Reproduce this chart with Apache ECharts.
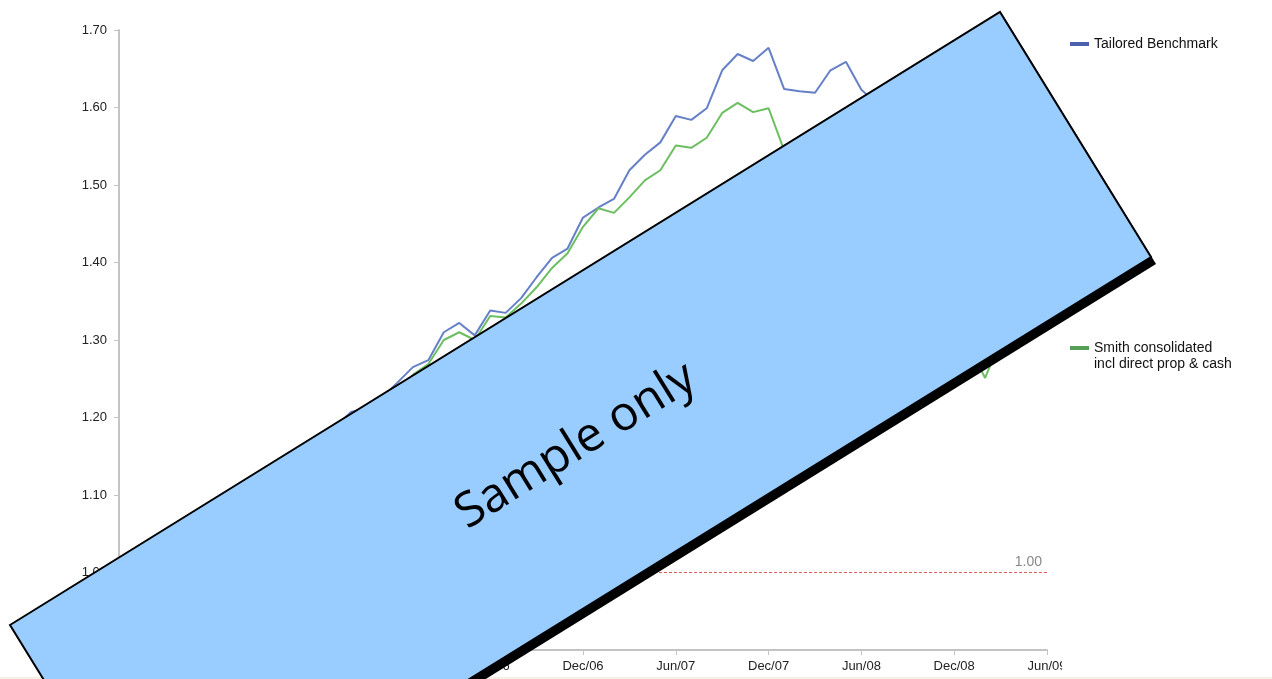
<!DOCTYPE html>
<html>
<head>
<meta charset="utf-8">
<script src="https://cdn.jsdelivr.net/npm/echarts@6/dist/echarts.min.js"></script>
<style>html,body{margin:0;padding:0;background:#fff;}#c{width:1272px;height:679px;}</style>
</head>
<body>
<div id="c"></div>
<script>
var months = ['Jun/04','Jul/04','Aug/04','Sep/04','Oct/04','Nov/04','Dec/04','Jan/05','Feb/05','Mar/05','Apr/05','May/05',
'Jun/05','Jul/05','Aug/05','Sep/05','Oct/05','Nov/05','Dec/05','Jan/06','Feb/06','Mar/06','Apr/06','May/06',
'Jun/06','Jul/06','Aug/06','Sep/06','Oct/06','Nov/06','Dec/06','Jan/07','Feb/07','Mar/07','Apr/07','May/07',
'Jun/07','Jul/07','Aug/07','Sep/07','Oct/07','Nov/07','Dec/07','Jan/08','Feb/08','Mar/08','Apr/08','May/08',
'Jun/08','Jul/08','Aug/08','Sep/08','Oct/08','Nov/08','Dec/08','Jan/09','Feb/09','Mar/09','Apr/09','May/09','Jun/09'];

var benchmarkName = 'Tailored Benchmark';
var smithName = 'Smith consolidated\nincl direct prop & cash';

var benchmark = [1.000,1.010,1.022,1.030,1.045,1.058,1.066,1.080,1.096,1.108,1.122,1.140,1.152,1.170,1.188,
1.207,1.212,1.226,1.245,1.265,1.274,1.310,1.322,1.306,1.338,1.335,1.354,1.381,1.406,1.418,
1.458,1.471,1.482,1.519,1.539,1.555,1.589,1.584,1.599,1.648,1.669,1.660,1.677,
1.624,1.621,1.619,1.648,1.659,1.623,1.605,1.585,1.560,1.500,1.440,1.410,1.390,1.355,1.370];

var smith = [1.000,1.008,1.018,1.027,1.040,1.052,1.060,1.074,1.090,1.102,1.116,1.134,1.146,1.163,1.182,
1.200,1.207,1.220,1.235,1.255,1.269,1.300,1.310,1.300,1.331,1.329,1.347,1.368,1.393,1.412,
1.446,1.470,1.464,1.484,1.506,1.519,1.551,1.548,1.561,1.593,1.606,1.594,1.599,
1.545,1.540,1.535,1.555,1.560,1.530,1.505,1.480,1.450,1.390,1.335,1.310,1.290,1.251,1.300];

var baseLevel = 1.00;

var FONT = '"Liberation Sans", Arial, sans-serif';
var chart = echarts.init(document.getElementById('c'));
chart.setOption({
  backgroundColor: '#ffffff',
  animation: false,
  grid: {left: 119, right: 225, top: 30, bottom: 29, containLabel: false},
  legend: [
    {data: [{name: benchmarkName, itemStyle: {color: '#4a62ad'}}], left: 1070, top: 37, orient: 'vertical',
     icon: 'rect', itemWidth: 19, itemHeight: 4, padding: 0,
     textStyle: {fontFamily: FONT, fontSize: 14, color: '#111'}},
    {data: [{name: smithName, itemStyle: {color: '#55a055'}}], left: 1070, top: 324, orient: 'vertical',
     icon: 'rect', itemWidth: 19, itemHeight: 4, padding: 0,
     formatter: function(n){ return '\n' + n; },
     textStyle: {fontFamily: FONT, fontSize: 14, color: '#111', lineHeight: 16}}
  ],
  xAxis: {
    type: 'category', data: months, boundaryGap: false,
    axisLine: {lineStyle: {color: '#c4c4c4', width: 2}},
    axisTick: {interval: 5, length: 5, lineStyle: {color: '#c4c4c4', width: 1}},
    axisLabel: {interval: 5, margin: 10, fontFamily: FONT, fontSize: 13, color: '#222'},
    splitLine: {show: false}
  },
  yAxis: {
    type: 'value', min: 0.9, max: 1.7, interval: 0.1,
    axisLine: {show: true, lineStyle: {color: '#c4c4c4', width: 2}},
    axisTick: {show: true, length: 5, lineStyle: {color: '#c4c4c4'}},
    axisLabel: {margin: 12, fontFamily: FONT, fontSize: 13, color: '#222', formatter: function(v){return v.toFixed(2);}},
    splitLine: {show: false}
  },
  series: [
    {name: benchmarkName, type: 'line', data: benchmark, symbol: 'none', lineStyle: {color: '#6680c8', width: 2}, itemStyle: {color: '#6680c8'},
     markLine: {silent: true, symbol: 'none', data: [{yAxis: baseLevel}],
       lineStyle: {color: '#e05a5a', type: [3, 2], width: 1},
       label: {position: 'insideEndTop', formatter: function(){return baseLevel.toFixed(2);}, color: '#888', fontFamily: FONT, fontSize: 14, distance: [5, 3]}}},
    {name: smithName, type: 'line', data: smith, symbol: 'none', lineStyle: {color: '#6cbf60', width: 2}, itemStyle: {color: '#6cbf60'}}
  ],
  graphic: [
    {type: 'rect', z: 50, shape: {x: 1062, y: 652, width: 24, height: 22}, style: {fill: '#ffffff'}},
    {type: 'rect', z: 50, shape: {x: 0, y: 677, width: 1272, height: 2}, style: {fill: '#f4f1e4'}},
    {type: 'polygon', z: 100, shape: {points: [[15,632],[1005,19],[1156,264],[166,877]]}, style: {fill: '#000000'}},
    {type: 'polygon', z: 101, shape: {points: [[10,625],[1000,12],[1151,257],[161,870]]}, style: {fill: '#99ccff', stroke: '#000000', lineWidth: 2}},
    {type: 'text', z: 102, x: 576, y: 446, rotation: 0.555,
     style: {text: 'Sample only', font: '48px "Open Sans", "Noto Sans", sans-serif', fill: '#000000', align: 'center', verticalAlign: 'middle'}}
  ]
});
</script>
</body>
</html>
